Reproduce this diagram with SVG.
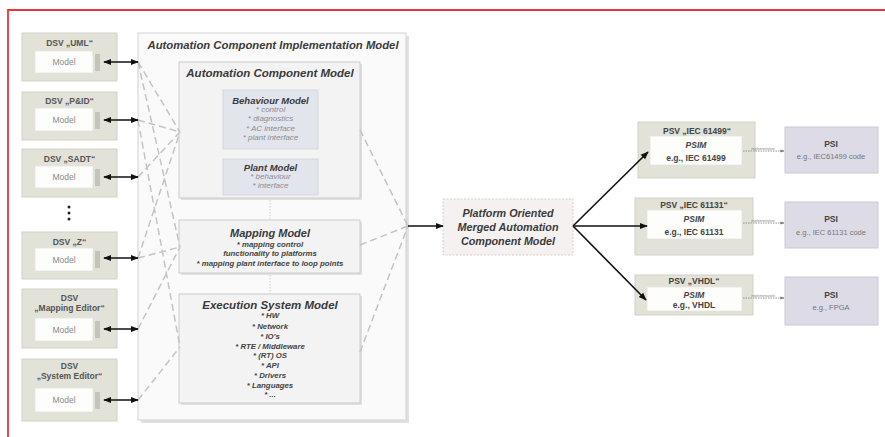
<svg xmlns="http://www.w3.org/2000/svg" width="885" height="437" viewBox="0 0 885 437">
<defs>
<marker id="ah" viewBox="0 0 10 10" refX="9" refY="5" markerWidth="8" markerHeight="8" orient="auto-start-reverse" markerUnits="userSpaceOnUse"><path d="M0,1 L10,5 L0,9 z" fill="#111"/></marker>
<marker id="ahs" viewBox="0 0 10 10" refX="9" refY="5" markerWidth="4" markerHeight="4" orient="auto" markerUnits="userSpaceOnUse"><path d="M0,1 L10,5 L0,9 z" fill="#777"/></marker>
<style>
.dsv{fill:#e2e2d9;stroke:#d2d2c8;stroke-width:1}
.psi{fill:#dcdbe6;stroke:#cac9d6;stroke-width:1}
.wht{fill:#fdfdfb;stroke:#e4e4e0;stroke-width:0.8}
.tag{fill:#c4c4bb;stroke:none}
.outer{fill:#fafafa;stroke:#d2d2d2;stroke-width:1}
.mdl{fill:#f3f3f3;stroke:#cbcbcb;stroke-width:1}
.sub{fill:#e3e5ec;stroke:#d0d2da;stroke-width:0.8}
.plat{fill:#f5f1f1;stroke:#e0cccc;stroke-width:1;stroke-dasharray:2 1.5}
.shadow{fill:#e0e0e0}
.t{font-family:"Liberation Sans",Arial,sans-serif;text-anchor:middle}
.ttl{font-weight:bold;font-style:italic;fill:#3a3a3a}
.dt{font-weight:bold;font-size:8.5px;fill:#555}
.md{font-size:8.5px;fill:#8a8a8a}
.li{font-style:italic;font-size:8px;fill:#8c8c96}
.lb{font-weight:bold;font-style:italic;font-size:7.8px;fill:#444}
.ps{font-weight:bold;font-size:8.5px;fill:#444}
.pe{font-size:7.5px;fill:#777}
.dash{fill:none;stroke:#c4c4c4;stroke-width:1.5;stroke-dasharray:7 4}
.arr{fill:none;stroke:#111;stroke-width:1.6}
.imp{fill:none;stroke:#8a8a8a;stroke-width:0.9;stroke-dasharray:1.5 1}
.tiny{font-size:3.5px;fill:#888}
</style>
</defs>
<rect x="0" y="0" width="885" height="437" fill="#ffffff"/>
<path d="M8,437 L8,10 L885,10" fill="none" stroke="#e8343a" stroke-width="1.8"/>

<!-- Implementation model container -->
<g id="acim">
<rect x="141" y="36" width="268" height="387" class="shadow"/>
<rect x="138" y="33" width="268" height="387" class="outer"/>
<text x="273" y="49" class="t ttl" font-size="11.3">Automation Component Implementation Model</text>
<line x1="270" y1="149" x2="270" y2="294" stroke="#c4c4c4" stroke-width="0.8" stroke-dasharray="1.5 1.5"/>
</g>
<g id="acm">
<rect x="181" y="64" width="181" height="136" class="shadow"/>
<rect x="179" y="62" width="181" height="136" class="mdl"/>
<text x="270" y="77" class="t ttl" font-size="11.5">Automation Component Model</text>
</g>
<g id="behaviour">
<rect x="223" y="90" width="95" height="59" class="sub"/>
<text x="270.5" y="103.5" class="t ttl" font-size="9.5">Behaviour Model</text>
<text x="270.5" y="111.8" class="t li">* control</text>
<text x="270.5" y="121.3" class="t li">* diagnostics</text>
<text x="270.5" y="130.8" class="t li">* AC interface</text>
<text x="270.5" y="140.3" class="t li">* plant interface</text>
</g>
<g id="plant">
<rect x="223" y="159" width="95" height="36" class="sub"/>
<text x="270.5" y="170.5" class="t ttl" font-size="9.5">Plant Model</text>
<text x="270.5" y="179" class="t li">* behaviour</text>
<text x="270.5" y="188" class="t li">* interface</text>
</g>
<g id="mapping">
<rect x="181" y="222" width="181" height="53" class="shadow"/>
<rect x="179" y="220" width="181" height="53" class="mdl"/>
<text x="270" y="236.5" class="t ttl" font-size="11">Mapping Model</text>
<text x="270" y="246.8" class="t lb">* mapping control</text>
<text x="270" y="256.3" class="t lb">functionality to platforms</text>
<text x="270" y="265.8" class="t lb">* mapping plant interface to loop points</text>
</g>
<g id="execution">
<rect x="181" y="296" width="181" height="109" class="shadow"/>
<rect x="179" y="294" width="181" height="109" class="mdl"/>
<text x="270" y="309" class="t ttl" font-size="11.5">Execution System Model</text>
<text x="270" y="318" class="t lb">* HW</text>
<text x="270" y="328.8" class="t lb">* Network</text>
<text x="270" y="338.8" class="t lb">* IO's</text>
<text x="270" y="348.8" class="t lb">* RTE / Middleware</text>
<text x="270" y="357.8" class="t lb">* (RT) OS</text>
<text x="270" y="367.8" class="t lb">* API</text>
<text x="270" y="377.8" class="t lb">* Drivers</text>
<text x="270" y="387.8" class="t lb">* Languages</text>
<text x="270" y="396.8" class="t lb">* ...</text>
</g>

<!-- DSV nodes -->
<g id="dsv-uml">
<rect x="22" y="33" width="95" height="48" class="dsv"/>
<text x="69.5" y="45.5" class="t dt">DSV „UML“</text>
<rect x="35" y="51" width="58" height="22" class="wht"/>
<text x="64" y="65" class="t md">Model</text>
<rect x="95" y="54" width="5" height="17" class="tag"/>
</g>
<g id="dsv-pid">
<rect x="22" y="92" width="95" height="48" class="dsv"/>
<text x="69.5" y="104" class="t dt">DSV „P&amp;ID“</text>
<rect x="35" y="108" width="58" height="23" class="wht"/>
<text x="64" y="123" class="t md">Model</text>
<rect x="95" y="112" width="5" height="17" class="tag"/>
</g>
<g id="dsv-sadt">
<rect x="22" y="149" width="95" height="48" class="dsv"/>
<text x="69.5" y="161.5" class="t dt">DSV „SADT“</text>
<rect x="35" y="166" width="58" height="22" class="wht"/>
<text x="64" y="180" class="t md">Model</text>
<rect x="95" y="169" width="5" height="17" class="tag"/>
</g>
<g id="dots">
<circle cx="69" cy="207" r="1.5" fill="#222"/>
<circle cx="69" cy="213" r="1.5" fill="#222"/>
<circle cx="69" cy="219" r="1.5" fill="#222"/>
</g>
<g id="dsv-z">
<rect x="22" y="232" width="95" height="47" class="dsv"/>
<text x="69.5" y="245" class="t dt">DSV „Z“</text>
<rect x="35" y="248" width="58" height="23" class="wht"/>
<text x="64" y="262.5" class="t md">Model</text>
<rect x="95" y="251" width="5" height="17" class="tag"/>
</g>
<g id="dsv-mapping">
<rect x="22" y="289" width="95" height="59" class="dsv"/>
<text x="69.5" y="301" class="t dt" font-size="7.8">DSV</text>
<text x="69.5" y="310.5" class="t dt" font-size="7.8">„Mapping Editor“</text>
<rect x="35" y="318" width="58" height="23" class="wht"/>
<text x="64" y="332.5" class="t md">Model</text>
<rect x="95" y="321" width="5" height="17" class="tag"/>
</g>
<g id="dsv-system">
<rect x="22" y="359" width="95" height="62" class="dsv"/>
<text x="69.5" y="369" class="t dt" font-size="7.8">DSV</text>
<text x="69.5" y="378.5" class="t dt" font-size="7.8">„System Editor“</text>
<rect x="35" y="388" width="58" height="24" class="wht"/>
<text x="64" y="403" class="t md">Model</text>
<rect x="95" y="392" width="5" height="17" class="tag"/>
</g>

<!-- Platform oriented model -->
<g id="platform">
<rect x="443" y="199" width="130" height="56" class="plat"/>
<text x="508" y="217" class="t ttl" font-size="10.8">Platform Oriented</text>
<text x="508" y="231" class="t ttl" font-size="10.8">Merged Automation</text>
<text x="508" y="245" class="t ttl" font-size="10.8">Component Model</text>
</g>

<!-- PSV nodes -->
<g id="psv-61499">
<rect x="638" y="122" width="117" height="56" class="dsv"/>
<text x="697" y="134" class="t ps">PSV „IEC 61499“</text>
<rect x="650" y="136" width="92" height="29" class="wht"/>
<text x="696" y="148" class="t ps" font-style="italic">PSIM</text>
<text x="696" y="160.5" class="t ps">e.g., IEC 61499</text>
</g>
<g id="psv-61131">
<rect x="635" y="198" width="118" height="57" class="dsv"/>
<text x="694" y="207.5" class="t ps">PSV „IEC 61131“</text>
<rect x="647" y="210" width="95" height="29" class="wht"/>
<text x="694" y="222" class="t ps" font-style="italic">PSIM</text>
<text x="694" y="234.5" class="t ps">e.g., IEC 61131</text>
</g>
<g id="psv-vhdl">
<rect x="635" y="275" width="118" height="40" class="dsv"/>
<text x="694" y="284" class="t ps">PSV „VHDL“</text>
<rect x="647" y="287" width="95" height="24" class="wht"/>
<text x="694" y="297.5" class="t ps" font-style="italic">PSIM</text>
<text x="694" y="308" class="t ps">e.g., VHDL</text>
</g>

<!-- PSI nodes -->
<g id="psi-1">
<rect x="785" y="127" width="93" height="46" class="psi"/>
<text x="831" y="146.5" class="t ps">PSI</text>
<text x="831" y="158.5" class="t pe">e.g., IEC61499 code</text>
</g>
<g id="psi-2">
<rect x="785" y="202" width="93" height="46" class="psi"/>
<text x="831" y="221.5" class="t ps">PSI</text>
<text x="831" y="234.5" class="t pe">e.g., IEC 61131 code</text>
</g>
<g id="psi-3">
<rect x="785" y="277" width="93" height="48" class="psi"/>
<text x="831" y="297.5" class="t ps">PSI</text>
<text x="831" y="309.5" class="t pe">e.g., FPGA</text>
</g>

<!-- connectors -->
<g id="connectors">
<path class="dash" d="M138,62 L180,132 M138,62 L180,247 M138,120 L180,132 M138,120 L180,347 M138,177 L180,132 M138,258 L180,132 M138,258 L180,247 M138,329 L180,247 M138,400 L180,347"/>
<path class="dash" d="M360,130 L408,226 M360,245 L408,226 M360,352 L408,226"/>
<line x1="104" y1="62" x2="138" y2="62" class="arr" marker-start="url(#ah)" marker-end="url(#ah)"/>
<line x1="104" y1="120" x2="138" y2="120" class="arr" marker-start="url(#ah)" marker-end="url(#ah)"/>
<line x1="104" y1="177" x2="138" y2="177" class="arr" marker-start="url(#ah)" marker-end="url(#ah)"/>
<line x1="104" y1="258" x2="138" y2="258" class="arr" marker-start="url(#ah)" marker-end="url(#ah)"/>
<line x1="104" y1="329" x2="138" y2="329" class="arr" marker-start="url(#ah)" marker-end="url(#ah)"/>
<line x1="104" y1="400" x2="138" y2="400" class="arr" marker-start="url(#ah)" marker-end="url(#ah)"/>
<line x1="408" y1="226" x2="443" y2="226" class="arr" marker-end="url(#ah)"/>
<line x1="573" y1="226" x2="648" y2="152" class="arr" marker-end="url(#ah)"/>
<line x1="573" y1="226" x2="647" y2="226" class="arr" marker-end="url(#ah)"/>
<line x1="573" y1="226" x2="646" y2="300" class="arr" marker-end="url(#ah)"/>
<line x1="743" y1="151" x2="784" y2="151" class="imp" marker-end="url(#ahs)"/>
<line x1="743" y1="223" x2="784" y2="223" class="imp" marker-end="url(#ahs)"/>
<line x1="743" y1="298" x2="784" y2="298" class="imp" marker-end="url(#ahs)"/>
<text x="763" y="149.5" class="t tiny">implementation</text>
<text x="763" y="221.5" class="t tiny">implementation</text>
<text x="763" y="296.5" class="t tiny">implementation</text>
</g>
</svg>
